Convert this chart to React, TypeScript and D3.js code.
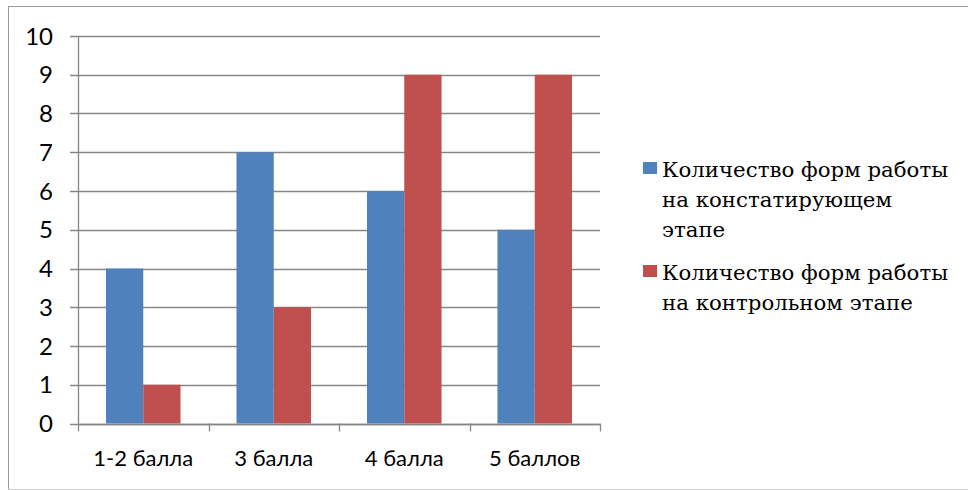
import React, { useEffect, useRef } from "react";
import * as d3 from "d3";

const categories = ["1-2 балла", "3 балла", "4 балла", "5 баллов"];
const seriesNames = [
  ["Количество форм работы", "на констатирующем", "этапе"],
  ["Количество форм работы", "на контрольном этапе"],
];
const series1 = [4, 7, 6, 5];
const series2 = [1, 3, 9, 9];
const yTicks = [0, 1, 2, 3, 4, 5, 6, 7, 8, 9, 10];
const colors = ["#4F81BD", "#C0504D"];

export default function App() {
  const ref = useRef<SVGSVGElement>(null);
  useEffect(() => {
    const svg = d3.select(ref.current);
    svg.selectAll("*").remove();
    const left = 78, right = 600, top = 36, bottom = 423.5;
    const x = d3.scaleBand().domain(categories).range([left, right]).paddingInner(0).paddingOuter(0);
    const y = d3.scaleLinear().domain([0, 10]).range([bottom, top]);
    const grid = "#868686";
    const sans = "Lato, 'Open Sans', sans-serif";

    svg.append("rect").attr("x", 0).attr("y", 0).attr("width", 968).attr("height", 490).attr("fill", "white");
    svg.append("line").attr("x1", 8.5).attr("x2", 8.5).attr("y1", 6).attr("y2", 489).attr("stroke", "#9a9a9a");
    svg.append("line").attr("x1", 8).attr("x2", 968).attr("y1", 6.5).attr("y2", 6.5).attr("stroke", "#9a9a9a");
    svg.append("line").attr("x1", 8).attr("x2", 968).attr("y1", 489.5).attr("y2", 489.5).attr("stroke", "#cfcfcf");

    yTicks.forEach((t) => {
      svg.append("line").attr("x1", left - 8).attr("x2", right).attr("y1", Math.round(y(t)) + 0.5).attr("y2", Math.round(y(t)) + 0.5)
        .attr("stroke", grid).attr("stroke-width", 1.3);
      svg.append("text").attr("x", 53).attr("y", y(t) + 8.5).attr("text-anchor", "end")
        .style("font-family", sans).style("font-size", "24px").attr("fill", "#000").text(String(t));
    });

    const bw = x.bandwidth();
    const barW = bw / 3.5;
    const groups = [series1, series2];
    categories.forEach((c, i) => {
      groups.forEach((s, k) => {
        const bx = (x(c) as number) + (bw * 0.75) / 3.5 + k * barW;
        svg.append("rect").attr("x", bx).attr("y", y(s[i])).attr("width", barW).attr("height", y(0) - y(s[i]))
          .attr("fill", colors[k]);
      });
      svg.append("text").attr("x", (x(c) as number) + bw / 2).attr("y", 466).attr("text-anchor", "middle")
        .style("font-family", sans).style("font-size", "22px").attr("fill", "#000").text(c);
    });

    svg.append("line").attr("x1", left + 0.5).attr("x2", left + 0.5).attr("y1", top).attr("y2", bottom)
      .attr("stroke", grid).attr("stroke-width", 1.3);
    svg.append("line").attr("x1", left).attr("x2", right).attr("y1", Math.round(bottom) + 0.5).attr("y2", Math.round(bottom) + 0.5)
      .attr("stroke", grid).attr("stroke-width", 1.3);
    [...categories.map((c) => x(c) as number), right].forEach((tx) => {
      svg.append("line").attr("x1", Math.round(tx) + 0.5).attr("x2", Math.round(tx) + 0.5).attr("y1", bottom).attr("y2", bottom + 8)
        .attr("stroke", grid).attr("stroke-width", 1.3);
    });

    const legY = [177, 280];
    seriesNames.forEach((lines, k) => {
      svg.append("rect").attr("x", 643).attr("y", legY[k] - 15).attr("width", 14).attr("height", 12).attr("fill", colors[k]);
      const t = svg.append("text").attr("x", 662).attr("y", legY[k])
        .style("font-family", "'DejaVu Serif', serif")
        .style("font-size", "21.3px").attr("fill", "#000");
      lines.forEach((ln, j) => {
        t.append("tspan").attr("x", 662).attr("y", legY[k] + j * 30).text(ln);
      });
    });
  }, []);
  return <svg ref={ref} width={968} height={490} style={{ position: "fixed", left: 0, top: 0 }} />;
}
